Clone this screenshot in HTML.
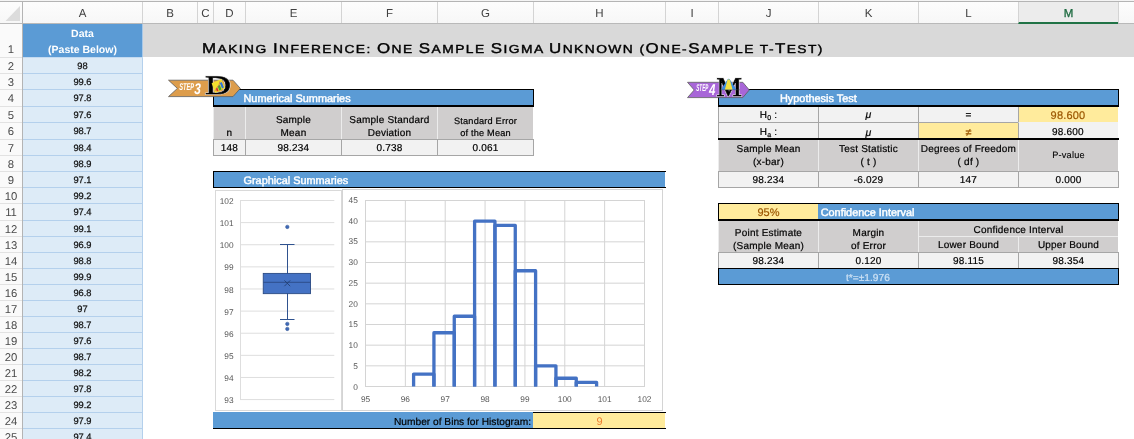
<!DOCTYPE html>
<html><head><meta charset="utf-8"><title>One-Sample t-Test</title>
<style>
html,body{margin:0;padding:0;}
body{width:1134px;height:439px;overflow:hidden;background:#fff;position:relative;font-family:"Liberation Sans",sans-serif;color:#000;text-rendering:geometricPrecision;}
div{position:absolute;box-sizing:border-box;white-space:nowrap;}
.ch{top:2px;height:21px;line-height:24px;text-align:center;font-size:11.5px;color:#404040;border-left:1px solid #d4d4d4;}
.rh{left:0;width:22px;text-align:center;font-size:11.3px;color:#4a4a4a;border-top:1px solid #e2e2e2;}
.a{left:23px;width:120px;background:#ddebf7;border-right:1px solid #b4d0ec;border-bottom:1px solid #b4d0ec;text-align:center;font-size:9.3px;color:#111;-webkit-text-stroke:0.25px #111;}
.sec{background:#5b9bd5;border:1px solid #000;color:#fff;font-size:10.9px;-webkit-text-stroke:0.45px #fff;}
.hd{background:#d0cece;text-align:center;font-size:10px;letter-spacing:0.2px;color:#000;border-left:1px solid #ececec;-webkit-text-stroke:0.2px #000;}
.dc{background:#f2f2f2;text-align:center;font-size:10px;letter-spacing:0.2px;color:#000;border:1px solid #a6a6a6;-webkit-text-stroke:0.2px #000;}
.ax{font-size:8.2px;color:#595959;text-align:center;}
</style></head><body>

<div style="left:0;top:0;width:1134px;height:24px;background:linear-gradient(#fdfdfd,#f7f7f7);border-bottom:1px solid #b9b9b9;"></div>
<div style="left:0;top:1px;width:1134px;height:1px;background:#b4b4b4;"></div>
<div style="left:0;top:0px;width:1134px;height:1px;background:#f4f4f4;"></div>
<svg style="position:absolute;left:0px;top:0px" width="22" height="23"><polygon points="20,6 20,21 5.5,21" fill="#dcdcdc"/></svg>
<div class="ch" style="left:22px;width:120px;">A</div>
<div class="ch" style="left:142px;width:55px;">B</div>
<div class="ch" style="left:197px;width:16px;">C</div>
<div class="ch" style="left:213px;width:32px;">D</div>
<div class="ch" style="left:245px;width:96px;">E</div>
<div class="ch" style="left:341px;width:96px;">F</div>
<div class="ch" style="left:437px;width:96px;">G</div>
<div class="ch" style="left:533px;width:132px;">H</div>
<div class="ch" style="left:665px;width:53px;">I</div>
<div class="ch" style="left:718px;width:100px;">J</div>
<div class="ch" style="left:818px;width:100px;">K</div>
<div class="ch" style="left:918px;width:100px;">L</div>
<div class="ch" style="left:1018px;width:100px;background:#ececec;color:#1e6b41;-webkit-text-stroke:0.3px #1e6b41;border-bottom:2px solid #217346;height:22px;">M</div>
<div class="ch" style="left:1118px;width:16px;"></div>
<div style="left:0;top:24px;width:23px;height:415px;background:#fafafa;border-right:1px solid #b4b4b4;"></div>
<div style="left:22px;top:2px;width:1px;height:22px;background:#b4b4b4;"></div>
<div class="rh" style="top:24px;height:34px;line-height:52px;border-top:none;">1</div>
<div class="rh" style="top:57px;height:17px;line-height:18px;">2</div>
<div class="rh" style="top:73px;height:17px;line-height:18px;">3</div>
<div class="rh" style="top:89px;height:18px;line-height:18px;">4</div>
<div class="rh" style="top:106px;height:17px;line-height:18px;">5</div>
<div class="rh" style="top:122px;height:18px;line-height:18px;">6</div>
<div class="rh" style="top:139px;height:17px;line-height:18px;">7</div>
<div class="rh" style="top:155px;height:17px;line-height:18px;">8</div>
<div class="rh" style="top:171px;height:17px;line-height:18px;">9</div>
<div class="rh" style="top:187px;height:17px;line-height:18px;">10</div>
<div class="rh" style="top:203px;height:18px;line-height:18px;">11</div>
<div class="rh" style="top:220px;height:17px;line-height:18px;">12</div>
<div class="rh" style="top:236px;height:17px;line-height:18px;">13</div>
<div class="rh" style="top:252px;height:17px;line-height:18px;">14</div>
<div class="rh" style="top:268px;height:17px;line-height:18px;">15</div>
<div class="rh" style="top:284px;height:17px;line-height:18px;">16</div>
<div class="rh" style="top:300px;height:17px;line-height:18px;">17</div>
<div class="rh" style="top:316px;height:17px;line-height:18px;">18</div>
<div class="rh" style="top:332px;height:17px;line-height:18px;">19</div>
<div class="rh" style="top:348px;height:17px;line-height:18px;">20</div>
<div class="rh" style="top:364px;height:17px;line-height:18px;">21</div>
<div class="rh" style="top:380px;height:17px;line-height:18px;">22</div>
<div class="rh" style="top:396px;height:17px;line-height:18px;">23</div>
<div class="rh" style="top:412px;height:17px;line-height:18px;">24</div>
<div class="rh" style="top:428px;height:17px;line-height:18px;">25</div>
<div style="left:142px;top:24px;width:992px;height:33px;background:#d9d9d9;"></div>
<div id="title" style="left:202.2px;top:40px;height:18px;line-height:18px;font-size:11.6px;letter-spacing:1.2px;transform-origin:0 0;transform:scaleX(1.191);color:#000;-webkit-text-stroke:0.4px #000;"><span style="font-size:14.2px">M</span>AKING <span style="font-size:14.2px">I</span>NFERENCE: <span style="font-size:14.2px">O</span>NE <span style="font-size:14.2px">S</span>AMPLE <span style="font-size:14.2px">S</span>IGMA <span style="font-size:14.2px">U</span>NKNOWN (<span style="font-size:14.2px">O</span>NE-<span style="font-size:14.2px">S</span>AMPLE T-<span style="font-size:14.2px">T</span>EST)</div>
<div style="left:23px;top:57px;width:120px;height:1px;background:#c3daf1;"></div>
<div style="left:142px;top:24px;width:1px;height:33px;background:#a8c8e8;"></div>
<div style="left:23px;top:24px;width:119px;height:33px;background:#5b9bd5;color:#fff;font-weight:bold;font-size:10.5px;text-align:center;line-height:16px;padding-top:2px;">Data<br>(Paste Below)</div>
<div class="a" style="top:58px;height:16px;line-height:17px;">98</div>
<div class="a" style="top:74px;height:16px;line-height:17px;">99.6</div>
<div class="a" style="top:90px;height:17px;line-height:16px;">97.8</div>
<div class="a" style="top:107px;height:16px;line-height:17px;">97.6</div>
<div class="a" style="top:123px;height:17px;line-height:16px;">98.7</div>
<div class="a" style="top:140px;height:16px;line-height:17px;">98.4</div>
<div class="a" style="top:156px;height:16px;line-height:17px;">98.9</div>
<div class="a" style="top:172px;height:16px;line-height:17px;">97.1</div>
<div class="a" style="top:188px;height:16px;line-height:17px;">99.2</div>
<div class="a" style="top:204px;height:17px;line-height:16px;">97.4</div>
<div class="a" style="top:221px;height:16px;line-height:17px;">99.1</div>
<div class="a" style="top:237px;height:16px;line-height:17px;">96.9</div>
<div class="a" style="top:253px;height:16px;line-height:17px;">98.8</div>
<div class="a" style="top:269px;height:16px;line-height:17px;">99.9</div>
<div class="a" style="top:285px;height:16px;line-height:17px;">96.8</div>
<div class="a" style="top:301px;height:16px;line-height:17px;">97</div>
<div class="a" style="top:317px;height:16px;line-height:17px;">98.7</div>
<div class="a" style="top:333px;height:16px;line-height:17px;">97.6</div>
<div class="a" style="top:349px;height:16px;line-height:17px;">98.7</div>
<div class="a" style="top:365px;height:16px;line-height:17px;">98.2</div>
<div class="a" style="top:381px;height:16px;line-height:17px;">97.8</div>
<div class="a" style="top:397px;height:16px;line-height:17px;">99.2</div>
<div class="a" style="top:413px;height:16px;line-height:17px;">97.9</div>
<div class="a" style="top:429px;height:16px;line-height:17px;">97.4</div>
<div class="sec" style="left:213px;top:89px;width:321px;height:18px;line-height:18.4px;padding-left:29.5px;border-bottom-width:2px;">Numerical Summaries</div>
<div class="hd" style="left:213px;top:107px;width:32px;height:32px;line-height:13px;padding-top:6.5px;"><br>n</div>
<div class="dc" style="left:213px;top:139px;width:33px;height:17px;line-height:18px;">148</div>
<div class="hd" style="left:245px;top:107px;width:96px;height:32px;line-height:13px;padding-top:6.5px;">Sample<br>Mean</div>
<div class="dc" style="left:245px;top:139px;width:97px;height:17px;line-height:18px;">98.234</div>
<div class="hd" style="left:341px;top:107px;width:96px;height:32px;line-height:13px;padding-top:6.5px;">Sample Standard<br>Deviation</div>
<div class="dc" style="left:341px;top:139px;width:97px;height:17px;line-height:18px;">0.738</div>
<div class="hd" style="left:437px;top:107px;width:96px;height:32px;line-height:13px;padding-top:6.5px;"><div style="position:static;font-size:9.2px;line-height:12.2px;padding-top:1px;">Standard Error<br>of the Mean</div></div>
<div class="dc" style="left:437px;top:139px;width:97px;height:17px;line-height:18px;">0.061</div>
<div class="sec" style="left:213px;top:171px;width:453px;height:17px;line-height:19px;padding-left:29.5px;border-right:none;background:linear-gradient(to right,#5b9bd5 451px,#fff 451px);">Graphical Summaries</div>
<div style="left:213px;top:412px;width:453px;height:17px;background:#5b9bd5;border-bottom:1px solid #000;"></div>
<div style="left:213px;top:412px;width:320px;height:16px;line-height:21.5px;text-align:right;font-size:10.2px;color:#000;-webkit-text-stroke:0.2px #000;padding-right:2px;background:#5b9bd5;">Number of Bins for Histogram:</div>
<div style="left:533px;top:412px;width:133px;height:16px;line-height:19px;text-align:center;font-size:11px;color:#ed7d31;background:linear-gradient(to right,#ffeb9c 132px,#fff 132px);border-top:1px solid #000;">9</div>
<svg style="position:absolute;left:213px;top:188px" width="453" height="224" viewBox="213 188 453 224" font-family="Liberation Sans, sans-serif">
<rect x="215.5" y="190.5" width="126" height="220" fill="#fff" stroke="#d9d9d9" stroke-width="1"/>
<rect x="342.5" y="189.5" width="320" height="221" fill="#fff" stroke="#d4d4d4" stroke-width="1"/>
<line x1="240" y1="200.50" x2="334.3" y2="200.50" stroke="#dedede" stroke-width="1"/>
<text x="233.6" y="204" font-size="8.3" fill="#555" text-anchor="end">102</text>
<line x1="240" y1="222.62" x2="334.3" y2="222.62" stroke="#dedede" stroke-width="1"/>
<text x="233.6" y="226" font-size="8.3" fill="#555" text-anchor="end">101</text>
<line x1="240" y1="244.74" x2="334.3" y2="244.74" stroke="#dedede" stroke-width="1"/>
<text x="233.6" y="248" font-size="8.3" fill="#555" text-anchor="end">100</text>
<line x1="240" y1="266.86" x2="334.3" y2="266.86" stroke="#dedede" stroke-width="1"/>
<text x="233.6" y="270" font-size="8.3" fill="#555" text-anchor="end">99</text>
<line x1="240" y1="288.98" x2="334.3" y2="288.98" stroke="#dedede" stroke-width="1"/>
<text x="233.6" y="293" font-size="8.3" fill="#555" text-anchor="end">98</text>
<line x1="240" y1="311.10" x2="334.3" y2="311.10" stroke="#dedede" stroke-width="1"/>
<text x="233.6" y="315" font-size="8.3" fill="#555" text-anchor="end">97</text>
<line x1="240" y1="333.22" x2="334.3" y2="333.22" stroke="#dedede" stroke-width="1"/>
<text x="233.6" y="337" font-size="8.3" fill="#555" text-anchor="end">96</text>
<line x1="240" y1="355.34" x2="334.3" y2="355.34" stroke="#dedede" stroke-width="1"/>
<text x="233.6" y="359" font-size="8.3" fill="#555" text-anchor="end">95</text>
<line x1="240" y1="377.46" x2="334.3" y2="377.46" stroke="#dedede" stroke-width="1"/>
<text x="233.6" y="381" font-size="8.3" fill="#555" text-anchor="end">94</text>
<line x1="240" y1="399.58" x2="334.3" y2="399.58" stroke="#dedede" stroke-width="1"/>
<text x="233.6" y="403" font-size="8.3" fill="#555" text-anchor="end">93</text>
<line x1="240.5" y1="200" x2="240.5" y2="400" stroke="#dedede" stroke-width="1"/>
<line x1="287.5" y1="244.5" x2="287.5" y2="319.5" stroke="#2f528f" stroke-width="1"/>
<line x1="280" y1="244.5" x2="294.5" y2="244.5" stroke="#2f528f" stroke-width="1"/>
<line x1="280" y1="319.5" x2="294.5" y2="319.5" stroke="#2f528f" stroke-width="1"/>
<rect x="263.25" y="273.4" width="47.25" height="20.25" fill="#4472c4" stroke="#2a4a84" stroke-width="0.9"/>
<line x1="263.25" y1="282.3" x2="310.5" y2="282.3" stroke="#2a4a84" stroke-width="0.9"/>
<path d="M284.4 280.4 L290.2 286.2 M290.2 280.4 L284.4 286.2" stroke="#223f74" stroke-width="0.9" fill="none"/>
<circle cx="287.3" cy="226.9" r="1.75" fill="#3f69b8" stroke="#2f528f" stroke-width="0.5"/>
<circle cx="287.3" cy="323.9" r="1.75" fill="#3f69b8" stroke="#2f528f" stroke-width="0.5"/>
<circle cx="287.3" cy="328.9" r="1.75" fill="#3f69b8" stroke="#2f528f" stroke-width="0.5"/>
<line x1="365.0" y1="200.50" x2="645.0" y2="200.50" stroke="#d4d4d4" stroke-width="1"/>
<text x="357.8" y="203" font-size="8.3" fill="#555" text-anchor="end">45</text>
<line x1="365.0" y1="221.17" x2="645.0" y2="221.17" stroke="#d4d4d4" stroke-width="1"/>
<text x="357.8" y="224" font-size="8.3" fill="#555" text-anchor="end">40</text>
<line x1="365.0" y1="241.83" x2="645.0" y2="241.83" stroke="#d4d4d4" stroke-width="1"/>
<text x="357.8" y="244" font-size="8.3" fill="#555" text-anchor="end">35</text>
<line x1="365.0" y1="262.50" x2="645.0" y2="262.50" stroke="#d4d4d4" stroke-width="1"/>
<text x="357.8" y="265" font-size="8.3" fill="#555" text-anchor="end">30</text>
<line x1="365.0" y1="283.17" x2="645.0" y2="283.17" stroke="#d4d4d4" stroke-width="1"/>
<text x="357.8" y="286" font-size="8.3" fill="#555" text-anchor="end">25</text>
<line x1="365.0" y1="303.83" x2="645.0" y2="303.83" stroke="#d4d4d4" stroke-width="1"/>
<text x="357.8" y="307" font-size="8.3" fill="#555" text-anchor="end">20</text>
<line x1="365.0" y1="324.50" x2="645.0" y2="324.50" stroke="#d4d4d4" stroke-width="1"/>
<text x="357.8" y="327" font-size="8.3" fill="#555" text-anchor="end">15</text>
<line x1="365.0" y1="345.17" x2="645.0" y2="345.17" stroke="#d4d4d4" stroke-width="1"/>
<text x="357.8" y="348" font-size="8.3" fill="#555" text-anchor="end">10</text>
<line x1="365.0" y1="365.83" x2="645.0" y2="365.83" stroke="#d4d4d4" stroke-width="1"/>
<text x="357.8" y="369" font-size="8.3" fill="#555" text-anchor="end">5</text>
<line x1="365.0" y1="386.50" x2="645.0" y2="386.50" stroke="#d4d4d4" stroke-width="1"/>
<text x="357.8" y="390" font-size="8.3" fill="#555" text-anchor="end">0</text>
<line x1="365.50" y1="200.5" x2="365.50" y2="386.5" stroke="#d4d4d4" stroke-width="1"/>
<text x="365.50" y="402" font-size="8.3" fill="#555" text-anchor="middle">95</text>
<line x1="405.36" y1="200.5" x2="405.36" y2="386.5" stroke="#d4d4d4" stroke-width="1"/>
<text x="405.36" y="402" font-size="8.3" fill="#555" text-anchor="middle">96</text>
<line x1="445.21" y1="200.5" x2="445.21" y2="386.5" stroke="#d4d4d4" stroke-width="1"/>
<text x="445.21" y="402" font-size="8.3" fill="#555" text-anchor="middle">97</text>
<line x1="485.07" y1="200.5" x2="485.07" y2="386.5" stroke="#d4d4d4" stroke-width="1"/>
<text x="485.07" y="402" font-size="8.3" fill="#555" text-anchor="middle">98</text>
<line x1="524.93" y1="200.5" x2="524.93" y2="386.5" stroke="#d4d4d4" stroke-width="1"/>
<text x="524.93" y="402" font-size="8.3" fill="#555" text-anchor="middle">99</text>
<line x1="564.79" y1="200.5" x2="564.79" y2="386.5" stroke="#d4d4d4" stroke-width="1"/>
<text x="564.79" y="402" font-size="8.3" fill="#555" text-anchor="middle">100</text>
<line x1="604.64" y1="200.5" x2="604.64" y2="386.5" stroke="#d4d4d4" stroke-width="1"/>
<text x="604.64" y="402" font-size="8.3" fill="#555" text-anchor="middle">101</text>
<line x1="644.50" y1="200.5" x2="644.50" y2="386.5" stroke="#d4d4d4" stroke-width="1"/>
<text x="644.50" y="402" font-size="8.3" fill="#555" text-anchor="middle">102</text>
<path d="M413.60 386.5 L413.60 374.10 L433.93 374.10 L433.93 386.5" fill="none" stroke="#4472c4" stroke-width="3.3" stroke-linejoin="round"/>
<path d="M433.93 386.5 L433.93 332.77 L454.27 332.77 L454.27 386.5" fill="none" stroke="#4472c4" stroke-width="3.3" stroke-linejoin="round"/>
<path d="M454.27 386.5 L454.27 316.23 L474.60 316.23 L474.60 386.5" fill="none" stroke="#4472c4" stroke-width="3.3" stroke-linejoin="round"/>
<path d="M474.60 386.5 L474.60 221.17 L494.93 221.17 L494.93 386.5" fill="none" stroke="#4472c4" stroke-width="3.3" stroke-linejoin="round"/>
<path d="M494.93 386.5 L494.93 225.30 L515.27 225.30 L515.27 386.5" fill="none" stroke="#4472c4" stroke-width="3.3" stroke-linejoin="round"/>
<path d="M515.27 386.5 L515.27 270.77 L535.60 270.77 L535.60 386.5" fill="none" stroke="#4472c4" stroke-width="3.3" stroke-linejoin="round"/>
<path d="M535.60 386.5 L535.60 365.83 L555.93 365.83 L555.93 386.5" fill="none" stroke="#4472c4" stroke-width="3.3" stroke-linejoin="round"/>
<path d="M555.93 386.5 L555.93 378.23 L576.27 378.23 L576.27 386.5" fill="none" stroke="#4472c4" stroke-width="3.3" stroke-linejoin="round"/>
<path d="M576.27 386.5 L576.27 382.37 L596.60 382.37 L596.60 386.5" fill="none" stroke="#4472c4" stroke-width="3.3" stroke-linejoin="round"/>
</svg>
<div class="sec" style="left:718px;top:89px;width:401px;height:18px;line-height:18.4px;padding-left:61px;border-bottom-width:2px;">Hypothesis Test</div>
<div class="dc" style="left:718px;top:107px;width:101px;height:16px;line-height:17px;border-top:none;">H<sub style="font-size:7px;vertical-align:-1.5px;line-height:0">0</sub> :</div>
<div class="dc" style="left:718px;top:122px;width:101px;height:17px;line-height:20px;border-bottom:none;">H<sub style="font-size:7px;vertical-align:-1.5px;line-height:0">a</sub> :</div>
<div class="dc" style="left:818px;top:107px;width:101px;height:16px;line-height:17px;border-top:none;"><i style="font-size:10.5px">μ</i></div>
<div class="dc" style="left:818px;top:122px;width:101px;height:17px;line-height:20px;border-bottom:none;"><i style="font-size:10.5px">μ</i></div>
<div class="dc" style="left:918px;top:107px;width:101px;height:16px;line-height:17px;border-top:none;">=</div>
<div class="dc" style="left:918px;top:122px;width:101px;height:17px;line-height:20px;border-bottom:none;background:#ffeb9c;color:#9c5700;-webkit-text-stroke:0.2px #9c5700;font-size:11px;border-color:#a6a6a6 #a6a6a6 #ffeb9c #a6a6a6;">≠</div>
<div class="dc" style="left:1018px;top:107px;width:100px;height:16px;line-height:17px;border-top:none;background:#ffeb9c;color:#9c5700;-webkit-text-stroke:0.2px #9c5700;font-size:11px;border-color:#ffeb9c #ffeb9c #ffeb9c #a6a6a6;line-height:19px;">98.600</div>
<div class="dc" style="left:1018px;top:122px;width:100px;height:17px;line-height:20px;border-bottom:none;border-color:#f2f2f2 #f2f2f2 #f2f2f2 #a6a6a6;">98.600</div>
<div style="left:718px;top:138px;width:401px;height:2px;background:#000;"></div>
<div class="hd" style="left:718px;top:140px;width:100px;height:31px;line-height:13px;padding-top:3px;">Sample Mean<br>(x-bar)</div>
<div class="dc" style="left:718px;top:171px;width:101px;height:17px;line-height:18px;">98.234</div>
<div class="hd" style="left:818px;top:140px;width:100px;height:31px;line-height:13px;padding-top:3px;">Test Statistic<br>( t )</div>
<div class="dc" style="left:818px;top:171px;width:101px;height:17px;line-height:18px;">-6.029</div>
<div class="hd" style="left:918px;top:140px;width:100px;height:31px;line-height:13px;padding-top:3px;">Degrees of Freedom<br>( df )</div>
<div class="dc" style="left:918px;top:171px;width:101px;height:17px;line-height:18px;">147</div>
<div class="hd" style="left:1018px;top:140px;width:100px;height:31px;line-height:13px;padding-top:3px;"><div style="position:static;line-height:24px;font-size:9.2px;-webkit-text-stroke:0.1px #000">P-value</div></div>
<div class="dc" style="left:1018px;top:171px;width:101px;height:17px;line-height:18px;">0.000</div>
<div class="sec" style="left:718px;top:203px;width:401px;height:18px;line-height:18.4px;padding-left:101.7px;border-bottom-width:2px;">Confidence Interval</div>
<div style="left:719px;top:204px;width:99px;height:15px;line-height:18.4px;background:#ffeb9c;color:#9c5700;-webkit-text-stroke:0.2px #9c5700;text-align:center;font-size:11px;">95%</div>
<div class="hd" style="left:718px;top:221px;width:100px;height:31px;line-height:13px;padding-top:5.7px;">Point Estimate<br>(Sample Mean)</div>
<div class="hd" style="left:818px;top:221px;width:100px;height:31px;line-height:13px;padding-top:5.7px;">Margin<br>of Error</div>
<div class="hd" style="left:918px;top:221px;width:200px;height:16px;line-height:20px;border-bottom:1px solid #ececec;">Confidence Interval</div>
<div class="hd" style="left:918px;top:237px;width:100px;height:15px;line-height:18px;">Lower Bound</div>
<div class="hd" style="left:1018px;top:237px;width:100px;height:15px;line-height:18px;">Upper Bound</div>
<div class="dc" style="left:718px;top:252px;width:101px;height:17px;line-height:18px;">98.234</div>
<div class="dc" style="left:818px;top:252px;width:101px;height:17px;line-height:18px;">0.120</div>
<div class="dc" style="left:918px;top:252px;width:101px;height:17px;line-height:18px;">98.115</div>
<div class="dc" style="left:1018px;top:252px;width:101px;height:17px;line-height:18px;">98.354</div>
<div class="sec" style="left:718px;top:268px;width:401px;height:17px;line-height:19px;font-size:10.2px;color:#cfe2f5;-webkit-text-stroke:0.2px #cfe2f5;padding-left:127px;">t*=±1.976</div>
<svg style="position:absolute;left:165px;top:72px" width="80" height="30" viewBox="165 72 80 30">
<polygon points="168.5,80.2 233,80.2 240.3,88.4 233,96.6 168.5,96.6 177.4,88.4" fill="#dd9d4c" stroke="#5e5e5e" stroke-width="0.8"/>
<text x="179.3" y="89.8" font-family="Liberation Sans, sans-serif" font-style="italic" font-weight="bold" font-size="9.8" fill="#fff" textLength="14.8" lengthAdjust="spacingAndGlyphs">STEP</text>
<text x="194.2" y="94" font-family="Liberation Sans, sans-serif" font-style="italic" font-weight="bold" font-size="15.5" fill="#fff" textLength="6.6" lengthAdjust="spacingAndGlyphs">3</text>
<text x="205" y="94.4" font-family="Liberation Serif, serif" font-size="26.8" fill="none" stroke="#e0e0e0" stroke-width="1.6" textLength="26" lengthAdjust="spacingAndGlyphs">D</text>
<text x="205" y="94.4" font-family="Liberation Serif, serif" font-size="26.8" fill="#000" stroke="#000" stroke-width="0.5" textLength="26" lengthAdjust="spacingAndGlyphs">D</text>
<polygon points="211.6,83.2 221.3,78.9 225.2,88 215.3,93" fill="#f3e02e"/>
<polygon points="216.8,91.6 218.6,90.8 217.4,87.8 215.8,88.6" fill="#e03020"/>
<polygon points="219.2,90.6 221.6,89.5 219.8,85 217.6,86" fill="#44a832"/>
<polygon points="222,88.6 224,87.6 221.8,82 219.8,83" fill="#2f74d8"/>
<path d="M215.3 90.8 L217 87.2 L218.6 86.6 L220 81.2" stroke="#b0506a" stroke-width="0.6" fill="none"/>
</svg>
<svg style="position:absolute;left:684px;top:72px" width="80" height="30" viewBox="684 72 80 30">
<polygon points="687.5,82.3 742.8,82.3 749.3,90 742.8,97.6 687.5,97.6 694.2,90" fill="#a866d8" stroke="#5e5e5e" stroke-width="0.8"/>
<text x="696.3" y="91" font-family="Liberation Sans, sans-serif" font-style="italic" font-weight="bold" font-size="9.8" fill="#fff" textLength="12" lengthAdjust="spacingAndGlyphs">STEP</text>
<text x="709" y="95.4" font-family="Liberation Sans, sans-serif" font-style="italic" font-weight="bold" font-size="15.5" fill="#fff" textLength="6.4" lengthAdjust="spacingAndGlyphs">4</text>
<text x="716.5" y="95.8" font-family="Liberation Serif, serif" font-size="27" fill="none" stroke="#e0e0e0" stroke-width="1.6" textLength="25.4" lengthAdjust="spacingAndGlyphs">M</text>
<text x="716.5" y="95.8" font-family="Liberation Serif, serif" font-size="27" fill="#000" stroke="#000" stroke-width="0.5" textLength="25.4" lengthAdjust="spacingAndGlyphs">M</text>
<path d="M721 89.8 L727 80.2 Q728.7 77.4 730.4 80.2 L736.4 89.8 Z" fill="#3a8ee0"/>
<path d="M724.8 89.8 L727.3 80.6 Q728.7 77.8 730.1 80.6 L732.6 89.8 Z" fill="#f3e040"/>
<line x1="719.5" y1="89.8" x2="740" y2="89.8" stroke="#444" stroke-width="0.4"/>
</svg>
</body></html>
